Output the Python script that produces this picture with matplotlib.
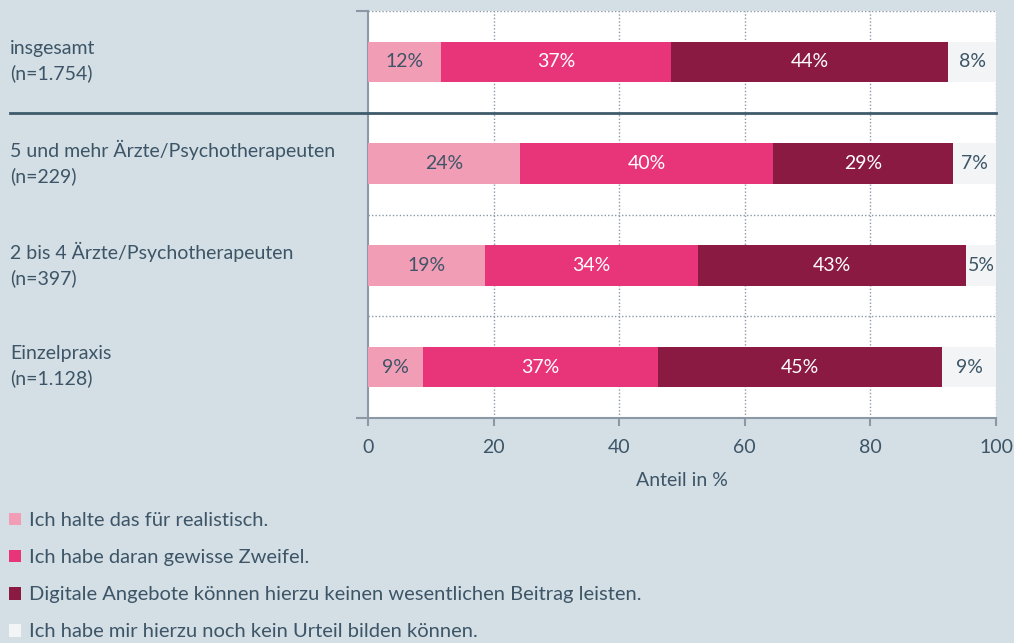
import matplotlib.pyplot as plt
from matplotlib.lines import Line2D
from matplotlib.patches import Patch
from matplotlib.transforms import blended_transform_factory

plt.rcParams['font.family'] = ['Lato', 'DejaVu Sans']

# data (share in %)
groups = ['insgesamt\n(n=1.754)',
          '5 und mehr Ärzte/Psychotherapeuten\n(n=229)',
          '2 bis 4 Ärzte/Psychotherapeuten\n(n=397)',
          'Einzelpraxis\n(n=1.128)']
realistisch = [11.6, 24.2, 18.6, 8.8]
zweifel = [36.6, 40.3, 34.0, 37.4]
kein_beitrag = [44.2, 28.7, 42.6, 45.2]
kein_urteil = [7.6, 6.8, 4.8, 8.6]
series_names = ['Ich halte das für realistisch.',
                'Ich habe daran gewisse Zweifel.',
                'Digitale Angebote können hierzu keinen wesentlichen Beitrag leisten.',
                'Ich habe mir hierzu noch kein Urteil bilden können.']

colors = ['#f29db6', '#e8357a', '#8a1a41', '#f2f4f6']
text_colors = ['#3d5566', 'white', 'white', '#3d5566']
bg = '#d3dee5'
txt = '#3d5566'
axis_grey = '#8c98a6'
fs = 14

fig = plt.figure(figsize=(10.14, 6.43), dpi=100, facecolor=bg)
ax = fig.add_axes([368/1014, 1-418/643, 628/1014, 407/643])
ax.set_facecolor('white')

ypos = [r + 0.5 for r in range(len(groups))]
left = [0.0] * len(groups)
for vals, c, tc in zip([realistisch, zweifel, kein_beitrag, kein_urteil], colors, text_colors):
    ax.barh(ypos, vals, left=left, height=0.4, color=c, edgecolor='none', zorder=3)
    for y, l, v in zip(ypos, left, vals):
        ax.text(l + v / 2, y, f'{round(v):.0f}%', ha='center', va='center',
                color=tc, fontsize=fs, zorder=4)
    left = [l + v for l, v in zip(left, vals)]

ax.set_xlim(0, 100)
ax.set_ylim(4, 0)

# dotted grid
for x in [20, 40, 60, 80, 100]:
    ax.axvline(x, color=axis_grey, lw=1, ls=(0, (1, 1.5)), zorder=1)
for y in [0, 2, 3]:
    ax.axhline(y, color=axis_grey, lw=1, ls=(0, (1, 1.5)), zorder=1)

for s in ['top', 'right']:
    ax.spines[s].set_visible(False)
for s in ['left', 'bottom']:
    ax.spines[s].set_color(axis_grey)
    ax.spines[s].set_linewidth(1.5)

ax.set_xticks([0, 20, 40, 60, 80, 100])
ax.tick_params(axis='x', colors=axis_grey, length=6, width=1.5, labelcolor=txt,
               labelsize=fs, pad=9)
ax.set_yticks([0, 4])
ax.set_yticklabels([])
ax.tick_params(axis='y', colors=axis_grey, length=9, width=1.5)
ax.set_xlabel('Anteil in %', color=txt, fontsize=fs, labelpad=12)

# group labels on the left
trans = blended_transform_factory(fig.transFigure, ax.transData)
for y, g in zip(ypos, groups):
    ax.text(10/1014, y - 0.01, g, transform=trans, color=txt, fontsize=fs,
            ha='left', va='center', linespacing=1.45)

# separator after "insgesamt"
fig.add_artist(Line2D([10/1014, 996/1014], [1-113/643, 1-113/643],
                      color='#3f5a6a', lw=2))

handles = [Patch(facecolor=c, edgecolor='none') for c in colors]
fig.legend(handles, series_names, loc='upper left', bbox_to_anchor=(1/1014, 1-504/643),
           frameon=False, fontsize=14.5, labelcolor=txt, handlelength=0.6,
           handleheight=0.6, handletextpad=0.4, labelspacing=1.0, borderaxespad=0)

fig.savefig('out.png', dpi=100, facecolor=bg)
